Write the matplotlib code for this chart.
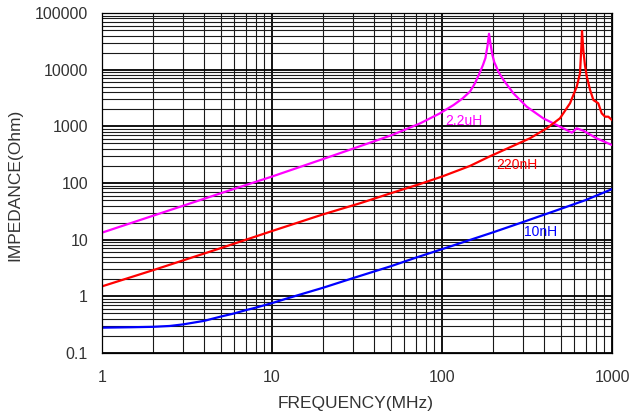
import matplotlib.pyplot as plt

# --- Data ---
FREQ_22UH = [1, 2, 5, 10, 20, 50, 74, 97, 117, 132, 146, 156, 166, 174, 180, 185,
             189, 193, 198, 203, 208, 214, 230, 263, 315, 394, 494, 580, 620, 678,
             811, 1000]
Z_22UH = [13.3, 26.5, 66, 130, 265, 690, 1120, 1690, 2380, 3100, 4100, 5700, 8600,
          12000, 16000, 26000, 43000, 28000, 18000, 13500, 11500, 9300, 6560, 3820,
          2220, 1384, 986, 773, 922, 838, 615, 468]

FREQ_220NH = [1, 2, 5, 10, 20, 33, 50, 75, 100, 146, 191, 251, 329, 413, 494, 566,
              620, 648, 660, 666, 678, 693, 710, 743, 777, 830, 869, 910, 951, 1000]
Z_220NH = [1.5, 2.9, 7.1, 14.2, 28, 44, 66, 97, 130, 200, 295, 427, 615, 922,
           1384, 2550, 5000, 8600, 25000, 48000, 22000, 12000, 7600, 4375, 2910,
           2550, 1700, 1480, 1480, 1290]

FREQ_10NH = [1, 1.5, 2, 2.5, 3, 4, 5, 6, 7, 8, 10, 12, 15, 20, 30, 50, 70, 100,
             200, 300, 500, 700, 1000]
Z_10NH = [0.28, 0.285, 0.29, 0.30, 0.32, 0.37, 0.44, 0.50, 0.57, 0.63, 0.76, 0.9,
          1.1, 1.42, 2.1, 3.4, 4.8, 6.8, 13.5, 20.5, 35, 50, 78]

X_TICKS = [1, 10, 100, 1000]
Y_TICKS = [0.1, 1, 10, 100, 1000, 10000, 100000]

TEXT_COLOR = "#333333"

plt.rcParams["font.family"] = ["Liberation Sans", "DejaVu Sans"]

fig = plt.figure(figsize=(6.32, 4.16), dpi=100)
ax = fig.add_axes([0.1614, 0.1514, 0.807, 0.8174])

ax.set_xscale("log")
ax.set_yscale("log")
ax.set_xlim(1, 1000)
ax.set_ylim(0.1, 100000)

# grid: heavy majors, thinner minors
ax.grid(True, which="major", color="black", linewidth=1.3)
ax.grid(True, which="minor", color="#1a1a1a", linewidth=0.8)
ax.set_axisbelow(True)

ax.plot(FREQ_22UH, Z_22UH, color="#ff00ff", linewidth=1.6)
ax.plot(FREQ_220NH, Z_220NH, color="#ff0000", linewidth=1.6)
ax.plot(FREQ_10NH, Z_10NH, color="#0000ff", linewidth=1.6)

# curve labels
ax.text(105, 1257, "2.2uH", color="#ff00ff", fontsize=10, va="center", ha="left")
ax.text(208, 207, "220nH", color="#ff0000", fontsize=10, va="center", ha="left")
ax.text(304, 13.8, "10nH", color="#0000ff", fontsize=10, va="center", ha="left")

ax.set_xticks(X_TICKS)
ax.set_xticklabels([str(t) for t in X_TICKS])
ax.set_yticks(Y_TICKS)
ax.set_yticklabels(["0.1", "1", "10", "100", "1000", "10000", "100000"])
ax.tick_params(which="both", length=0)
ax.tick_params(axis="x", pad=12, labelsize=11.5, labelcolor=TEXT_COLOR)
ax.tick_params(axis="y", pad=10, labelsize=11.5, labelcolor=TEXT_COLOR)

for s in ax.spines.values():
    s.set_color("black")
    s.set_linewidth(0.9)

fig.text(0.562, 0.03, "FREQUENCY(MHz)", ha="center", va="center",
         fontsize=12.5, color=TEXT_COLOR)
fig.text(0.024, 0.555, "IMPEDANCE(Ohm)", ha="center", va="center",
         rotation=90, fontsize=12.5, color=TEXT_COLOR)

fig.savefig("out.png", dpi=100)
